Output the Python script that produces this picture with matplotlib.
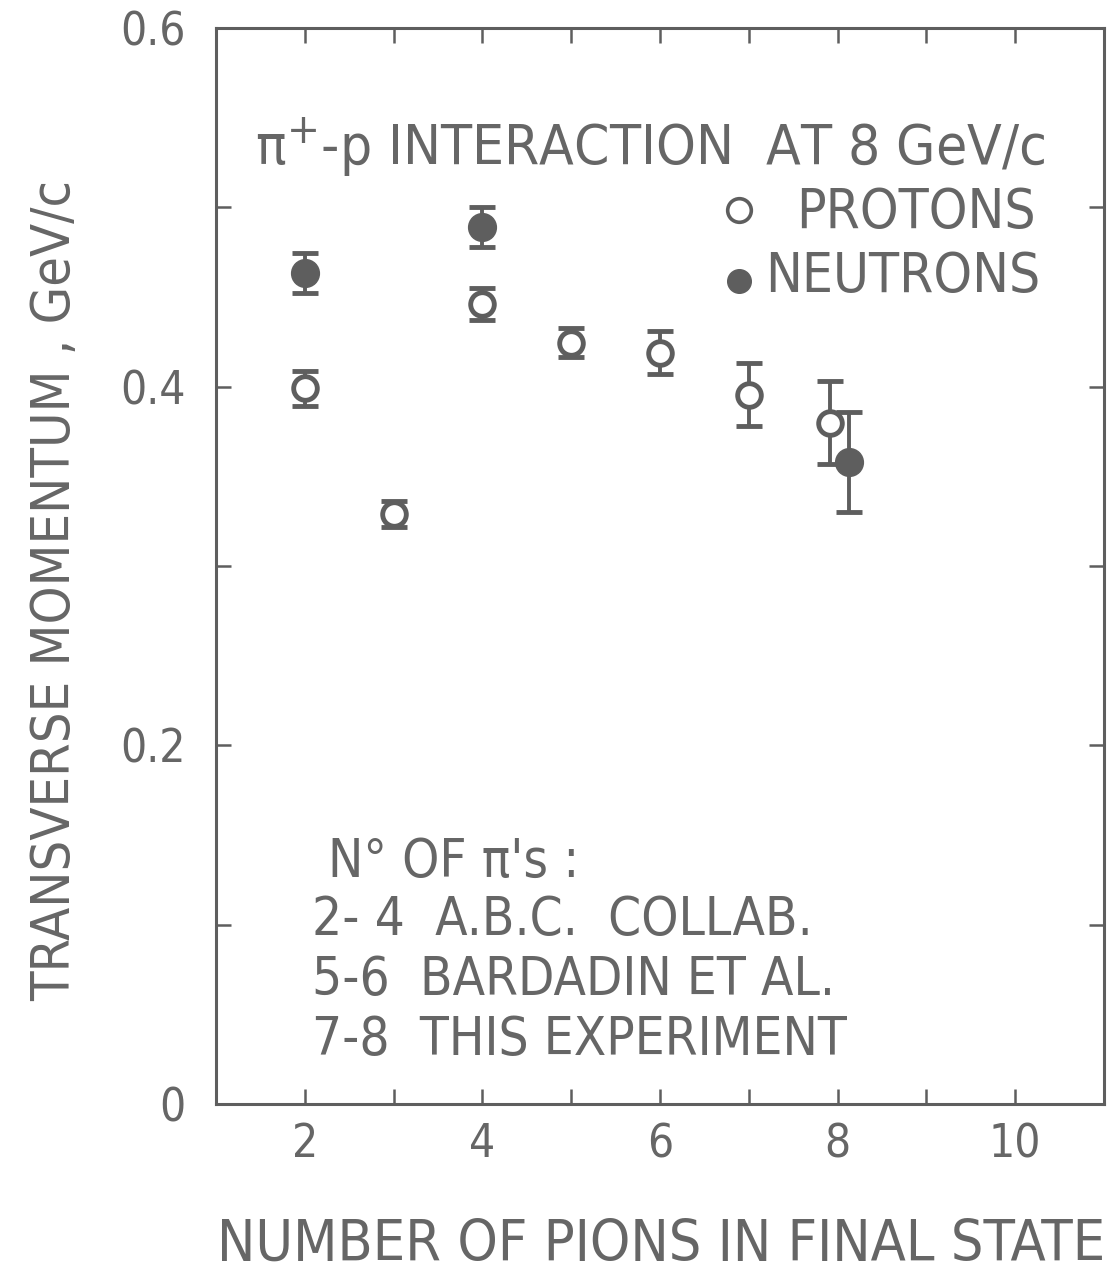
import matplotlib
matplotlib.use("Agg")
import matplotlib.pyplot as plt
from matplotlib import font_manager as fm
from matplotlib.font_manager import FontProperties

# ---------------- data ----------------
protons_x = [2, 3, 4, 5, 6, 7, 7.92]
protons_y = [0.399, 0.329, 0.446, 0.4245, 0.419, 0.3955, 0.380]
protons_err = [0.010, 0.007, 0.009, 0.008, 0.012, 0.0175, 0.023]

neutrons_x = [2, 4, 8.13]
neutrons_y = [0.4635, 0.489, 0.358]
neutrons_err = [0.011, 0.011, 0.028]

xticks = [2, 4, 6, 8, 10]
xtick_labels = ["2", "4", "6", "8", "10"]
yticks = [0, 0.2, 0.4, 0.6]
ytick_labels = ["0", "0.2", "0.4", "0.6"]

title_text = "π$^{+}$-p INTERACTION  AT 8 GeV/c"
legend_labels = ["PROTONS", "NEUTRONS"]
note_lines = ["N° OF π's :", "2- 4  A.B.C.  COLLAB.", "5-6  BARDADIN ET AL.", "7-8  THIS EXPERIMENT"]
ylabel_text = "TRANSVERSE MOMENTUM , GeV/c"
xlabel_text = "NUMBER OF PIONS IN FINAL STATE"

# ---------------- font choice ----------------
def pick_font():
    cond = None
    narrow = None
    for f in fm.fontManager.ttflist:
        st = str(f.stretch).lower()
        if f.name == "DejaVu Sans" and "condensed" in st and f.weight in (400, "normal", "regular") and f.style == "normal":
            cond = f.fname
        if f.name == "Liberation Sans Narrow" and f.style == "normal" and f.weight in (400, "normal", "regular"):
            narrow = f.fname
    if cond:
        return FontProperties(fname=cond)
    if narrow:
        return FontProperties(fname=narrow)
    return FontProperties(family="DejaVu Sans")

base_fp = pick_font()

def fp(size):
    p = base_fp.copy()
    p.set_size(size)
    return p

INK = "#5e5e5e"
TXT = "#666666"
plt.rcParams["mathtext.fontset"] = "dejavusans"

W, H = 1112, 1281
fig = plt.figure(figsize=(W / 100, H / 100), dpi=100)
fig.patch.set_facecolor("white")

L, R, B, T = 216, 1104, 1104, 28
ax = fig.add_axes([L / W, 1 - B / H, (R - L) / W, (B - T) / H])
ax.set_xlim(1, 11)
ax.set_ylim(0, 0.6)

for s in ax.spines.values():
    s.set_color(INK)
    s.set_linewidth(2.2)

ax.set_xticks(range(2, 11), minor=True)
ax.set_xticks(xticks)
ax.set_xticklabels(xtick_labels)
ax.set_yticks([0.1, 0.3, 0.5], minor=True)
ax.set_yticks(yticks)
ax.set_yticklabels(ytick_labels)
ax.tick_params(which="both", direction="in", length=11, width=1.8, color=INK,
               top=True, right=True)
ax.tick_params(axis="x", pad=13)
ax.tick_params(axis="y", pad=22)
for lab in ax.get_xticklabels() + ax.get_yticklabels():
    lab.set_fontproperties(fp(33))
    lab.set_color(TXT)

# ---------------- data marks ----------------
ax.errorbar(protons_x, protons_y, yerr=protons_err, fmt="o", ms=17, mfc="white",
            mec=INK, mew=3.5, ecolor=INK, elinewidth=2.8, capsize=9.5, capthick=3.5,
            zorder=3)
ax.errorbar(neutrons_x, neutrons_y, yerr=neutrons_err, fmt="o", ms=20, mfc=INK,
            mec=INK, ecolor=INK, elinewidth=2.8, capsize=9.5, capthick=3.5,
            zorder=3)

# ---------------- texts ----------------
def ax_x(px):
    return (px - L) / (R - L)

def ax_y(py):
    return (B - py) / (B - T)

renderer = fig.canvas.get_renderer()

def fit_size(t, target_w, max_size):
    fig.canvas.draw()
    w = t.get_window_extent(renderer).width
    size = min(t.get_fontsize() * target_w / w, max_size)
    t.set_fontsize(size)
    return size

def place(text, x, yc, size, ha="left"):
    return ax.text(ax_x(x), ax_y(yc), text, transform=ax.transAxes, ha=ha,
                   va="center", color=TXT, fontproperties=fp(size))

t = place(title_text, 255, 148, 30)
fit_size(t, 1045 - 255, 46)

tn = place(legend_labels[1], 1040, 277, 30, ha="right")
s_leg = fit_size(tn, 1040 - 765, 44)
place(legend_labels[0], 1036, 213, s_leg, ha="right")
ax.plot([ax_x(739)], [ax_y(210)], "o", transform=ax.transAxes, ms=17, mfc="white",
        mec=INK, mew=2.6, clip_on=False)
ax.plot([ax_x(739)], [ax_y(281)], "o", transform=ax.transAxes, ms=17, mfc=INK,
        mec=INK, clip_on=False)

t4 = place(note_lines[3], 312, 1040, 30)
s_note = fit_size(t4, 880 - 312, 38)
place(note_lines[0], 328, 862, s_note)
place(note_lines[1], 312, 920, s_note)
place(note_lines[2], 312, 980, s_note)

# axis labels
yl = fig.text(55 / W, 1 - 590 / H, ylabel_text, rotation=90, ha="center", va="center",
              color=TXT, fontproperties=fp(30))
fig.canvas.draw()
h = yl.get_window_extent(renderer).height
yl.set_fontsize(min(30 * 820 / h, 42))

xl = fig.text(661 / W, 1 - 1245 / H, xlabel_text, ha="center", va="center",
              color=TXT, fontproperties=fp(30))
fig.canvas.draw()
w = xl.get_window_extent(renderer).width
xl.set_fontsize(min(30 * 888 / w, 46))

fig.savefig("out.png", dpi=100, facecolor="white")
